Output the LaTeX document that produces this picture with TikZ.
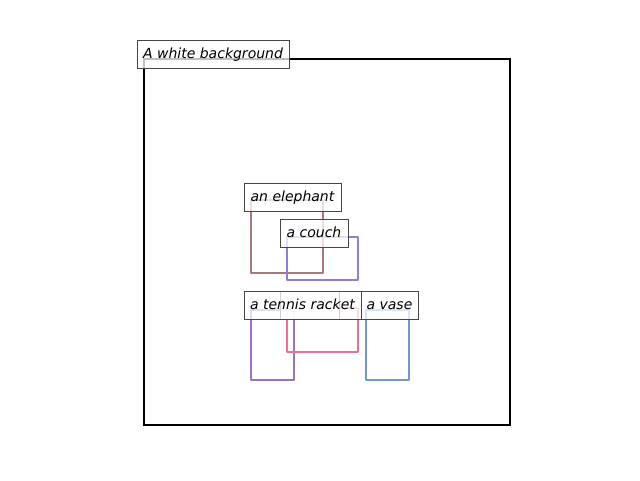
\documentclass[tikz,border=0pt]{standalone}
\usepackage{fontspec}
\setmainfont{DejaVu Sans}
\definecolor{celeph}{RGB}{168,120,124}
\definecolor{ccouch}{RGB}{140,125,225}
\definecolor{cracket}{RGB}{155,112,200}
\definecolor{cpink}{RGB}{240,110,150}
\definecolor{cvase}{RGB}{112,150,215}
\definecolor{clab}{RGB}{70,70,70}
\tikzset{
  objbox/.style={line width=1.9pt, line join=round},
  lab/.style={draw=clab, line width=0.75pt, fill=white, fill opacity=0.75, text opacity=1,
    inner sep=0pt, text height=9pt, text depth=3pt, minimum height=28*0.75pt,
    font=\fontsize{10.5}{12}\selectfont\itshape},
}
\begin{document}
\begin{tikzpicture}[x=0.75pt,y=-0.75pt]
\useasboundingbox (0,0) rectangle (640,480);
\draw[line width=1.5pt] (144,59) rectangle (510,425);
\draw[objbox, celeph] (251,200) rectangle (323,273);
\draw[objbox, ccouch] (287,237) rectangle (358,280);
\draw[objbox, cracket] (251,310) rectangle (294,380);
\draw[objbox, cpink] (287,308) rectangle (358,352);
\draw[objbox, cvase] (366,310) rectangle (409,380);
\node[lab, minimum width=152*0.75pt] (bg) at (213,54) {A white background};
\node[lab, minimum width=97*0.75pt] (eleph) at (292.5,197) {an elephant};
\node[lab, minimum width=68*0.75pt] (couch) at (314,233) {a couch};
\node[lab, minimum width=59*0.75pt] (hidden) at (309.5,305) {};
\node[lab, minimum width=117*0.75pt] (racket) at (302.5,305) {a tennis racket};
\node[lab, minimum width=57*0.75pt] (vase) at (389.5,305) {a vase};
\end{tikzpicture}
\end{document}
